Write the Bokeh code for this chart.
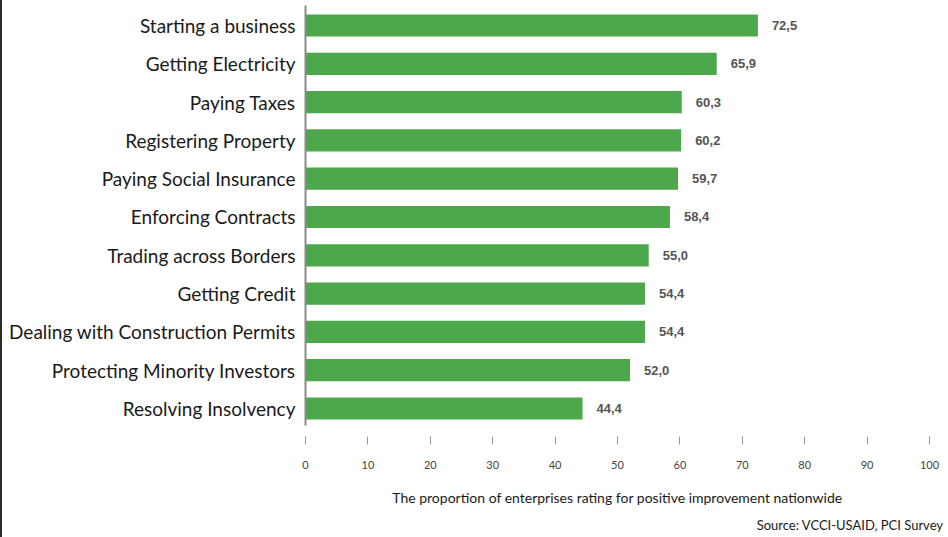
from bokeh.plotting import figure
from bokeh.models import ColumnDataSource, Range1d, FixedTicker, LinearAxis, Title, LabelSet
from bokeh.core.properties import value
from bokeh.embed import file_html
from bokeh.resources import INLINE

categories = [
    "Starting a business",
    "Getting Electricity",
    "Paying Taxes",
    "Registering Property",
    "Paying Social Insurance",
    "Enforcing Contracts",
    "Trading across Borders",
    "Getting Credit",
    "Dealing with Construction Permits",
    "Protecting Minority Investors",
    "Resolving Insolvency",
]
values = [72.5, 65.9, 60.3, 60.2, 59.7, 58.4, 55.0, 54.4, 54.4, 52.0, 44.4]
value_labels = ["72,5", "65,9", "60,3", "60,2", "59,7", "58,4", "55,0", "54,4", "54,4", "52,0", "44,4"]
x_ticks = [0, 10, 20, 30, 40, 50, 60, 70, 80, 90, 100]

pos = list(range(1, len(categories) + 1))
src = ColumnDataSource(dict(y=pos, v=values, lab=value_labels, cat=categories))

p = figure(frame_width=624, frame_height=420, output_backend="svg", toolbar_location=None,
           x_range=Range1d(0, 100), y_range=Range1d(11.444, 0.478),
           x_axis_location=None, y_axis_location=None,
           min_border_left=303, min_border_right=19, min_border_top=5, min_border_bottom=0)
p.outline_line_color = None
p.grid.visible = False
p.background_fill_color = "white"
p.border_fill_color = "white"
p.styles = {"border-left": "2px solid #2a2a2a"}

p.hbar(y="y", right="v", left=0, height=0.58, source=src,
       fill_color="#4CA84A", line_color=None)

labels = LabelSet(x="v", y="y", text="lab", source=src, x_offset=14, y_offset=0,
                  text_baseline="middle", text_font_size="13px", text_font_style="bold",
                  text_color="#555555", text_font=value("Liberation Sans"))
p.add_layout(labels)

yaxis = LinearAxis(ticker=FixedTicker(ticks=pos),
                   major_label_overrides={i: c for i, c in zip(pos, categories)})
yaxis.axis_line_color = "#8a8a8a"
yaxis.axis_line_width = 2
yaxis.major_tick_line_color = None
yaxis.minor_tick_line_color = None
yaxis.major_tick_out = 0
yaxis.major_tick_in = 0
yaxis.major_label_standoff = 10
yaxis.major_label_text_font = "Lato"
yaxis.major_label_text_font_size = "19px"
yaxis.major_label_text_color = "#1a1a1a"
p.add_layout(yaxis, "left")

xaxis = LinearAxis(ticker=FixedTicker(ticks=x_ticks))
xaxis.axis_line_color = None
xaxis.major_tick_line_color = "#9a9a9a"
xaxis.major_tick_in = -11
xaxis.major_tick_out = 19
xaxis.minor_tick_line_color = None
xaxis.major_label_standoff = 16
xaxis.major_label_text_font = "Lato"
xaxis.major_label_text_font_size = "11px"
xaxis.major_label_text_color = "#444444"
xaxis.axis_label = "The proportion of enterprises rating for positive improvement nationwide"
xaxis.axis_label_text_font = "Lato"
xaxis.axis_label_text_font_size = "14px"
xaxis.axis_label_text_font_style = "normal"
xaxis.axis_label_text_color = "#1a1a1a"
xaxis.axis_label_standoff = 17
p.add_layout(xaxis, "below")

src_title = Title(text="Source: VCCI-USAID, PCI Survey", align="right", offset=-14,
                  standoff=12,
                  text_font="Lato", text_font_size="13px", text_font_style="normal",
                  text_color="#1a1a1a")
p.add_layout(src_title, "below")

open("out.html", "w").write(file_html(p, INLINE))
